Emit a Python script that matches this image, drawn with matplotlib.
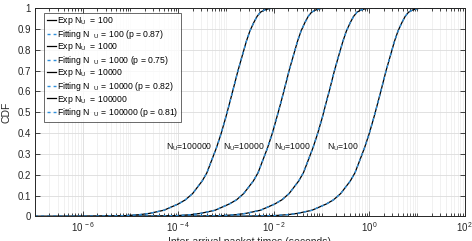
import matplotlib
matplotlib.use("Agg")
import matplotlib.pyplot as plt
from matplotlib.ticker import LogLocator, NullFormatter, FixedLocator, FixedFormatter

plt.rcParams['font.family'] = ['Liberation Sans', 'DejaVu Sans']
plt.rcParams['mathtext.fontset'] = 'custom'
plt.rcParams['mathtext.rm'] = 'Liberation Sans'
plt.rcParams['mathtext.it'] = 'Liberation Sans'

# ---- data (time in seconds, CDF) ----
cdf_vals = [0.0, 0.0005, 0.004, 0.009, 0.015, 0.03, 0.06, 0.08, 0.11, 0.14, 0.17,
            0.21, 0.27, 0.33, 0.40, 0.48, 0.545, 0.61, 0.70, 0.78, 0.84, 0.89,
            0.93, 0.96, 0.98, 0.99, 0.997, 1.0, 1.0]

t_nu100 = [1e-7, 1e-3, 0.01, 0.02, 0.0316, 0.063, 0.126, 0.178, 0.251, 0.316, 0.398,
           0.501, 0.631, 0.794, 1.0, 1.26, 1.50, 1.78, 2.24, 2.82, 3.35, 3.98,
           4.79, 5.62, 6.61, 7.94, 10.0, 12.6, 100]
t_nu1000 = [1e-7, 8.3e-5, 8.3e-4, 1.66e-3, 2.63e-3, 5.25e-3, 0.0105, 0.0148, 0.0209, 0.0263, 0.0331,
            0.0417, 0.0525, 0.0661, 0.0832, 0.105, 0.124, 0.148, 0.186, 0.234, 0.279, 0.331,
            0.398, 0.468, 0.550, 0.661, 0.832, 1.05, 100]
t_nu10000 = [1e-7, 9.3e-6, 9.3e-5, 1.86e-4, 2.95e-4, 5.89e-4, 1.17e-3, 1.66e-3, 2.34e-3, 2.95e-3, 3.72e-3,
             4.68e-3, 5.89e-3, 7.41e-3, 9.33e-3, 0.0117, 0.0140, 0.0166, 0.0209, 0.0263, 0.0313, 0.0372,
             0.0447, 0.0525, 0.0617, 0.0741, 0.0933, 0.117, 100]
t_nu100000 = [1e-7, 7.9e-7, 7.9e-6, 1.58e-5, 2.51e-5, 5.01e-5, 1.0e-4, 1.41e-4, 2.0e-4, 2.51e-4, 3.16e-4,
              3.98e-4, 5.01e-4, 6.31e-4, 7.94e-4, 1.0e-3, 1.19e-3, 1.41e-3, 1.78e-3, 2.24e-3, 2.66e-3, 3.16e-3,
              3.80e-3, 4.47e-3, 5.25e-3, 6.31e-3, 7.94e-3, 1.0e-2, 100]

nu_labels = ['100', '1000', '10000', '100000']
p_values = ['0.87', '0.75', '0.82', '0.81']
times = [t_nu100, t_nu1000, t_nu10000, t_nu100000]

# annotation positions (time, cdf)
annot_x = [0.13, 0.0102, 8.5e-4, 5.6e-5]
annot_y = [0.33, 0.33, 0.33, 0.33]

xticks = [1e-6, 1e-4, 1e-2, 1e0, 1e2]
xticklabels = ['$10^{\\,-6}$', '$10^{\\,-4}$', '$10^{\\,-2}$', '$10^{\\,0}$', '$10^{\\,2}$']
yticks = [0, 0.1, 0.2, 0.3, 0.4, 0.5, 0.6, 0.7, 0.8, 0.9, 1.0]
yticklabels = ['0', '0.1', '0.2', '0.3', '0.4', '0.5', '0.6', '0.7', '0.8', '0.9', '1']

fig = plt.figure(figsize=(4.72, 2.41), dpi=100)
ax = fig.add_axes([0.074, 0.1017, 0.911, 0.865])

handles = []
for t, nu, p in zip(times, nu_labels, p_values):
    h1, = ax.plot(t, cdf_vals, color='black', lw=0.9,
                  label='Exp N$_{\\rm U}$  = ' + nu)
    h2, = ax.plot(t, cdf_vals, color='#2f8fdb', lw=1.0, linestyle=(0, (2.2, 2.2)),
                  label='Fitting N  $_{\\rm U}$ = ' + nu + ' (p = ' + p + ')')
    handles += [h1, h2]

for x, y, nu in zip(annot_x, annot_y, nu_labels):
    ax.text(x, y, 'N$_{\\rm U}$=' + nu, fontsize=6.2, ha='left', va='center', color='#111111')

ax.set_xscale('log')
ax.set_xlim(1e-7, 1e2)
ax.set_ylim(0, 1)
ax.xaxis.set_major_locator(FixedLocator(xticks))
ax.xaxis.set_major_formatter(FixedFormatter(xticklabels))
ax.xaxis.set_minor_locator(LogLocator(base=10, subs=(1, 2, 3, 4, 5, 6, 7, 8, 9), numticks=50))
ax.xaxis.set_minor_formatter(NullFormatter())
ax.set_yticks(yticks)
ax.set_yticklabels(yticklabels)

ax.tick_params(which='both', direction='in', top=True, right=True, colors='#262626',
               labelsize=7, width=0.6)
ax.tick_params(which='major', length=3.5, pad=3)
ax.tick_params(which='minor', length=2)
ax.grid(True, which='major', color='#dcdcdc', lw=0.6)
ax.grid(True, which='minor', axis='x', color='#ececec', lw=0.5)
ax.set_axisbelow(True)
for s in ax.spines.values():
    s.set_color('#262626')
    s.set_linewidth(0.7)

ax.set_xlabel('Inter-arrival packet times (seconds)', fontsize=7.5, color='#262626', labelpad=2)
ax.set_ylabel('CDF', fontsize=7.5, color='#262626', labelpad=4)

leg = ax.legend(handles=handles, loc='upper left', bbox_to_anchor=(0.022, 0.977),
                fontsize=6.2, frameon=True, fancybox=False, handlelength=1.0,
                handletextpad=0.2, labelspacing=0.06, borderpad=0.3, borderaxespad=0)
leg.get_frame().set_edgecolor('#262626')
leg.get_frame().set_linewidth(0.6)

fig.savefig('out.png', dpi=100)
